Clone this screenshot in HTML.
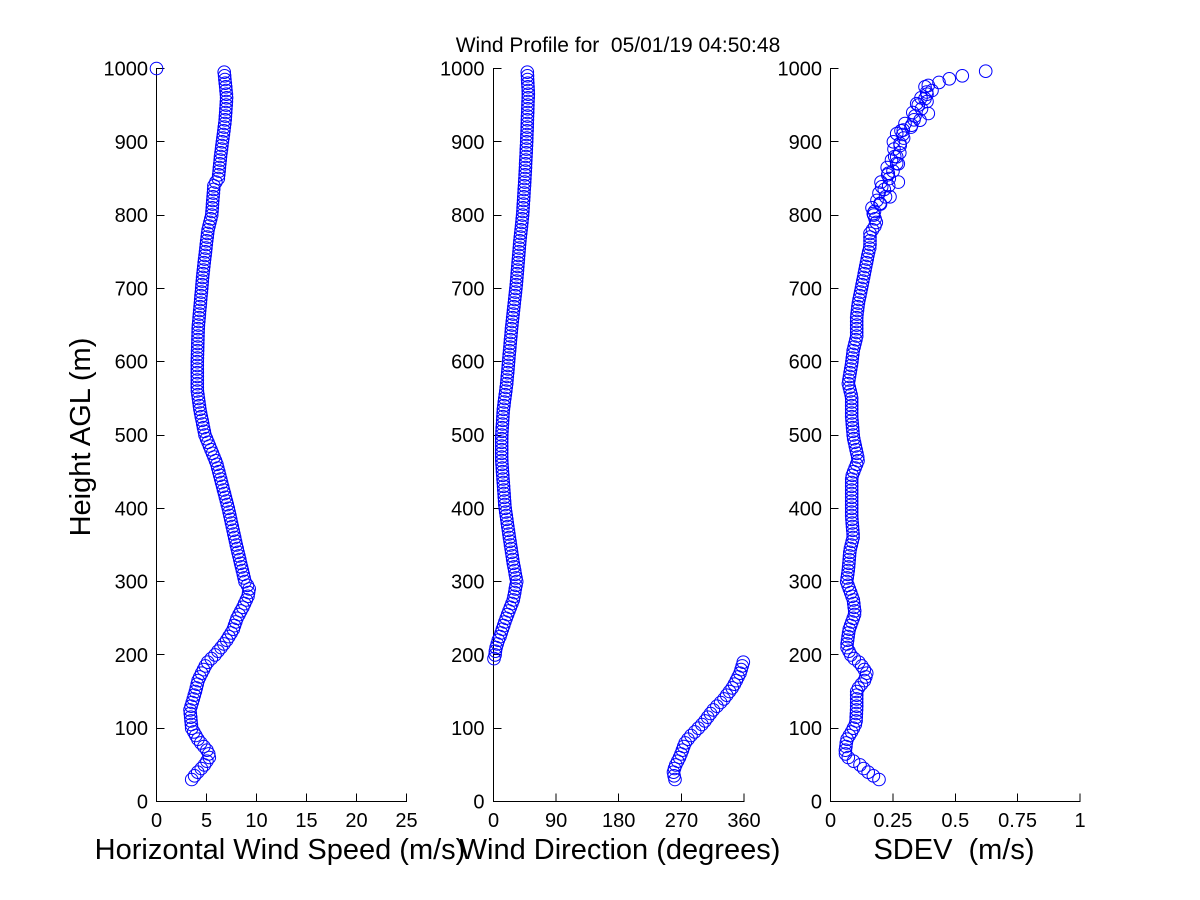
<!DOCTYPE html>
<html>
<head>
<meta charset="utf-8">
<style>
  html, body { margin: 0; padding: 0; background: #ffffff; }
  svg { display: block; }
  text { font-family: "Liberation Sans", Arial, sans-serif; fill: #000; }
  .tk { font-size: 20px; }
  .lab { font-size: 29px; }
  .ttl { font-size: 21px; }
  line { stroke: #000; stroke-width: 1; shape-rendering: crispEdges; }
  circle { fill: none; stroke: #0000ff; stroke-width: 1; }
</style>
</head>
<body>
<svg id="s" width="1200" height="900" viewBox="0 0 1200 900" xmlns="http://www.w3.org/2000/svg">
  <rect x="0" y="0" width="1200" height="900" fill="#ffffff"/>

  <!-- Title -->
  <text class="ttl" x="618" y="52" text-anchor="middle" xml:space="preserve">Wind Profile for  05/01/19 04:50:48</text>

  <!-- ===== Axis 1 ===== -->
  <line x1="156.5" y1="68" x2="156.5" y2="802"/>
  <line x1="156" y1="801.5" x2="407" y2="801.5"/>
  <g>
    <line x1="206.5" y1="801.5" x2="206.5" y2="793.5"/>
    <line x1="256.5" y1="801.5" x2="256.5" y2="793.5"/>
    <line x1="306.5" y1="801.5" x2="306.5" y2="793.5"/>
    <line x1="356.5" y1="801.5" x2="356.5" y2="793.5"/>
    <line x1="406.5" y1="801.5" x2="406.5" y2="793.5"/>
  </g>
  <g class="tk" text-anchor="middle">
    <text x="156.5" y="827">0</text>
    <text x="206.5" y="827">5</text>
    <text x="256.5" y="827">10</text>
    <text x="306.5" y="827">15</text>
    <text x="356.5" y="827">20</text>
    <text x="406.5" y="827">25</text>
  </g>
  <text class="lab" x="280" y="859" text-anchor="middle">Horizontal Wind Speed (m/s)</text>
  <text class="lab" x="0" y="0" text-anchor="middle" transform="translate(90,437) rotate(-90)">Height AGL (m)</text>

  <!-- ===== Axis 2 ===== -->
  <line x1="493.5" y1="68" x2="493.5" y2="802"/>
  <line x1="493" y1="801.5" x2="744.5" y2="801.5"/>
  <g>
    <line x1="556.1" y1="801.5" x2="556.1" y2="793.5"/>
    <line x1="618.7" y1="801.5" x2="618.7" y2="793.5"/>
    <line x1="681.4" y1="801.5" x2="681.4" y2="793.5"/>
    <line x1="744" y1="801.5" x2="744" y2="793.5"/>
  </g>
  <g class="tk" text-anchor="middle">
    <text x="493.5" y="827">0</text>
    <text x="556.1" y="827">90</text>
    <text x="618.7" y="827">180</text>
    <text x="681.4" y="827">270</text>
    <text x="744" y="827">360</text>
  </g>
  <text class="lab" x="620" y="859" text-anchor="middle">Wind Direction (degrees)</text>

  <!-- ===== Axis 3 ===== -->
  <line x1="830.5" y1="68" x2="830.5" y2="802"/>
  <line x1="830" y1="801.5" x2="1080.5" y2="801.5"/>
  <g>
    <line x1="892.9" y1="801.5" x2="892.9" y2="793.5"/>
    <line x1="955.3" y1="801.5" x2="955.3" y2="793.5"/>
    <line x1="1017.6" y1="801.5" x2="1017.6" y2="793.5"/>
    <line x1="1080" y1="801.5" x2="1080" y2="793.5"/>
  </g>
  <g class="tk" text-anchor="middle">
    <text x="830.5" y="827">0</text>
    <text x="892.9" y="827">0.25</text>
    <text x="955.3" y="827">0.5</text>
    <text x="1017.6" y="827">0.75</text>
    <text x="1080" y="827">1</text>
  </g>
  <text class="lab" x="954" y="859" text-anchor="middle" xml:space="preserve">SDEV  (m/s)</text>

  <!-- y tick labels -->
  <g class="tk" text-anchor="end">
    <text x="148" y="808.5">0</text>
    <text x="148" y="735.2">100</text>
    <text x="148" y="661.9">200</text>
    <text x="148" y="588.6">300</text>
    <text x="148" y="515.3">400</text>
    <text x="148" y="442">500</text>
    <text x="148" y="368.7">600</text>
    <text x="148" y="295.4">700</text>
    <text x="148" y="222.1">800</text>
    <text x="148" y="148.8">900</text>
    <text x="148" y="75.5">1000</text>

    <text x="484.5" y="808.5">0</text>
    <text x="484.5" y="735.2">100</text>
    <text x="484.5" y="661.9">200</text>
    <text x="484.5" y="588.6">300</text>
    <text x="484.5" y="515.3">400</text>
    <text x="484.5" y="442">500</text>
    <text x="484.5" y="368.7">600</text>
    <text x="484.5" y="295.4">700</text>
    <text x="484.5" y="222.1">800</text>
    <text x="484.5" y="148.8">900</text>
    <text x="484.5" y="75.5">1000</text>

    <text x="822" y="808.5">0</text>
    <text x="822" y="735.2">100</text>
    <text x="822" y="661.9">200</text>
    <text x="822" y="588.6">300</text>
    <text x="822" y="515.3">400</text>
    <text x="822" y="442">500</text>
    <text x="822" y="368.7">600</text>
    <text x="822" y="295.4">700</text>
    <text x="822" y="222.1">800</text>
    <text x="822" y="148.8">900</text>
    <text x="822" y="75.5">1000</text>
  </g>

  <g id="ticks"></g>
  <g id="pts"></g>
</svg>

<script>
(function(){
  var NS = "http://www.w3.org/2000/svg";
  var ticks = document.getElementById("ticks");
  var pts = document.getElementById("pts");
  function Y(h){ return 801.5 - h*0.733; }
  function line(x1,y1,x2,y2){
    var l = document.createElementNS(NS,"line");
    l.setAttribute("x1",x1); l.setAttribute("y1",y1);
    l.setAttribute("x2",x2); l.setAttribute("y2",y2);
    ticks.appendChild(l);
  }
  [156.5, 493.5, 830.5].forEach(function(ax){
    for (var h=100; h<=1000; h+=100){
      var y = Math.round(Y(h)-0.5)+0.5;
      line(ax, y, ax+8, y);
    }
  });
  function circ(x,y){
    var c = document.createElementNS(NS,"circle");
    c.setAttribute("cx",x.toFixed(1));
    c.setAttribute("cy",y.toFixed(1));
    c.setAttribute("r","6.3");
    pts.appendChild(c);
  }
  function interp(P,h){
    if (h<=P[0][0]) return P[0][1];
    for (var i=1;i<P.length;i++){
      if (h<=P[i][0]){
        var a=P[i-1], b=P[i];
        return a[1] + (b[1]-a[1])*(h-a[0])/(b[0]-a[0]);
      }
    }
    return P[P.length-1][1];
  }
  var L = [[30,191.7],[38.6,196.7],[47.7,203.3],[61.4,210],[70.5,206.7],[84,198.3],[100,191.7],
    [125,190],[148,195],[166,198.3],[188.7,206.7],[200,215],[211,221.7],[220,226.7],[234,233],
    [250,237],[266,243.3],[280,248],[291,249.3],[300,245],[347.7,236.7],[400,228.3],[461,216.7],
    [500,205],[534,200],[561,197.3],[600,197.3],[647.7,198.3],[700,201.7],[716,202.7],[756.7,206],
    [779.5,208],[800,211.7],[841,214],[850,218.3],[882,220.7],[927,225],[961,226.7],[997.7,224]];
  var MU = [[195,494],[198,495],[207,495.5],[220,498.3],[225,500],[238.6,503.3],[252,506.7],
    [275,513.3],[300,516.7],[325,513.3],[361,509.3],[402,505],[466,501.7],[497.7,501.7],
    [534,503.3],[570,506.7],[611,509.3],[647.7,511.7],[700.8,516],[738.6,518.3],[766,520],
    [801,522.7],[852,525],[900,526.7],[966,528.3],[995,527.3]];
  var ML = [[30.5,675],[38.7,673.3],[47.7,675],[61.4,680],[79.6,685],[88.6,690],[97.8,696.7],
    [107,703.3],[125,713.3],[138.7,723.3],[157,733.3],[175,740],[190,743.3]];
  var R = [[30.5,879],[36.4,871.7],[43.2,865],[52.4,858.3],[56.9,850],[66,845],[84,846.7],
    [95.5,851.7],[107,856],[129.5,856.7],[152,856.7],[166,865],[175,866.7],[188.7,860],
    [197.7,851.7],[211,846.7],[234,849],[257,855],[275,853.3],[300,846.7],[316,848.3],[343,850],
    [361,853.3],[388.6,851.7],[416,851.7],[443,851.7],[466,858.3],[497.7,853.3],[525,851.7],
    [552,851.7],[570.5,848.3],[597.8,851.7],[616,853.3],[634,856.7],[661,856.7],[679.6,858.3],
    [702,861.7],[725,865],[747.7,868.3],[756.7,870],[775,870],[788.6,876.7],[802,873.3],
    [816,880],[825,890],[838.6,881.7],[845,898.3],[857,888.3],[870.5,896.7],[879.5,896.7],
    [897.7,900],[911,896.7],[916,903.3],[922.7,911.7],[929.5,920],[938.6,928.3],[952,916.7],
    [959,925],[968,926.7],[977,928.3],[981,939],[986,949.3],[990,962.3],[996.3,985.7]];
  /* smooth trend for SDEV top region (used with deterministic jitter) */
  var RS = [[800,873],[830,882],[860,890],[890,897],[915,903],[935,915],[955,922],[975,930],[985,945],[995,975]];
  var jit = [0,-4,3,-2,5,-3,1,4,-5,2,-1,3,-4,6,-2,0,4,-3,2,-6,3,1,-2,5,-4,2];

  var h, k;
  for (h=30; h<=995; h+=5){ circ(interp(L,h), Y(h)); }
  circ(156.5, Y(1000));
  for (h=30; h<=190; h+=5){ circ(interp(ML,h), Y(h)); }
  for (h=195; h<=995; h+=5){ circ(interp(MU,h), Y(h)); }
  for (h=30; h<=800; h+=5){ circ(interp(R,h), Y(h)); }
  k = 0;
  for (h=805; h<=975; h+=5){ circ(interp(RS,h) + jit[k % jit.length], Y(h)); k++; }
  R.forEach(function(p){ if (p[0]>800) circ(p[1], Y(p[0])); });
})();
</script>
</body>
</html>
